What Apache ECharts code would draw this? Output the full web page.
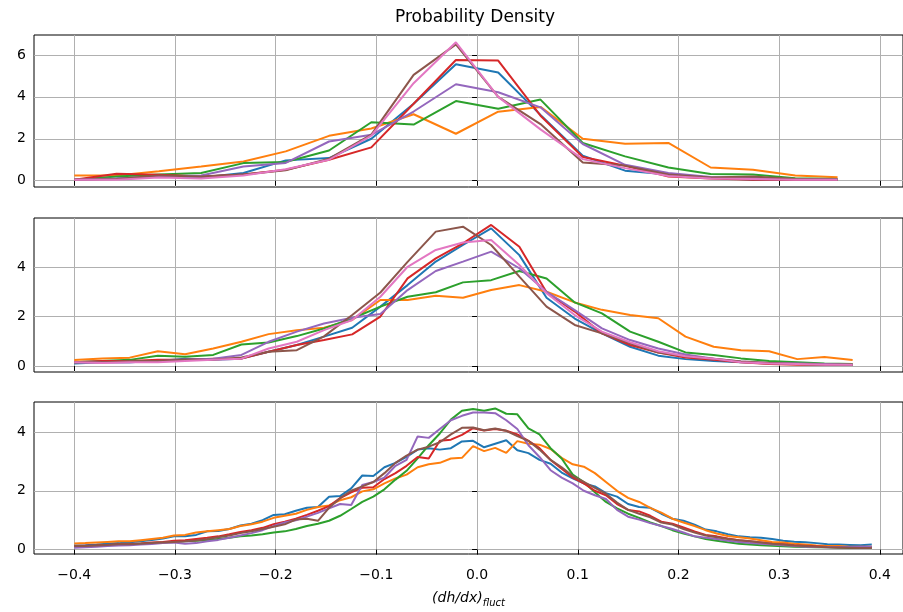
<!DOCTYPE html>
<html lang="en">
<head>
<meta charset="utf-8">
<script src="https://cdn.jsdelivr.net/npm/echarts@6/dist/echarts.min.js"></script>
</head>
<body style="margin:0">
<div id="chart" style="width:903px;height:612px"></div>
<script>
// tab10 colours, one per run
var colors = ['#1f77b4', '#ff7f0e', '#2ca02c', '#d62728', '#9467bd', '#8c564b', '#e377c2'];

// tick labels
var xTicks = [-0.4, -0.3, -0.2, -0.1, 0.0, 0.1, 0.2, 0.3, 0.4];
var yTicksTop = [0, 2, 4, 6];
var yTicksMid = [0, 2, 4];
var yTicksBot = [0, 2, 4];

// top panel
var x1 = [-0.400, -0.358, -0.316, -0.274, -0.232, -0.190, -0.147, -0.105, -0.063, -0.021, 0.021, 0.063, 0.105, 0.147, 0.190, 0.232, 0.274, 0.316, 0.358];
var top_blue   = [0.05, 0.10, 0.20, 0.15, 0.37, 0.97, 1.08, 2.00, 3.67, 5.55, 5.16, 3.14, 1.19, 0.48, 0.30, 0.15, 0.05, 0.05, 0.05];
var top_orange = [0.25, 0.25, 0.45, 0.68, 0.92, 1.40, 2.14, 2.49, 3.17, 2.24, 3.29, 3.52, 2.00, 1.76, 1.80, 0.63, 0.52, 0.25, 0.16];
var top_green  = [0.05, 0.20, 0.30, 0.37, 0.84, 0.89, 1.44, 2.79, 2.68, 3.80, 3.43, 3.87, 1.80, 1.16, 0.63, 0.32, 0.30, 0.12, 0.08];
var top_red    = [0.05, 0.33, 0.28, 0.20, 0.30, 0.52, 1.00, 1.59, 3.67, 5.76, 5.73, 3.10, 1.13, 0.71, 0.20, 0.10, 0.05, 0.05, 0.05];
var top_purple = [0.05, 0.10, 0.20, 0.25, 0.68, 0.85, 1.87, 2.19, 3.30, 4.60, 4.22, 3.50, 1.75, 0.76, 0.37, 0.18, 0.15, 0.08, 0.06];
var top_brown  = [0.05, 0.08, 0.25, 0.20, 0.30, 0.50, 1.05, 2.20, 5.05, 6.50, 4.00, 2.70, 0.87, 0.72, 0.30, 0.15, 0.20, 0.08, 0.05];
var top_pink   = [0.05, 0.05, 0.15, 0.10, 0.25, 0.55, 1.00, 2.15, 4.65, 6.60, 4.00, 2.45, 1.03, 0.60, 0.22, 0.10, 0.08, 0.05, 0.05];

// middle panel
var x2 = [-0.400, -0.372, -0.345, -0.317, -0.290, -0.262, -0.234, -0.207, -0.179, -0.152, -0.124, -0.096, -0.069, -0.041, -0.014, 0.014, 0.042, 0.069, 0.097, 0.124, 0.152, 0.180, 0.207, 0.235, 0.262, 0.290, 0.318, 0.345, 0.373];
var mid_blue   = [0.10, 0.15, 0.15, 0.20, 0.30, 0.25, 0.30, 0.58, 0.85, 1.19, 1.55, 2.40, 3.27, 4.22, 4.89, 5.56, 4.48, 2.76, 1.92, 1.32, 0.78, 0.42, 0.28, 0.20, 0.15, 0.10, 0.08, 0.05, 0.05];
var mid_orange = [0.24, 0.31, 0.34, 0.60, 0.48, 0.71, 0.98, 1.29, 1.45, 1.55, 1.86, 2.67, 2.67, 2.84, 2.76, 3.07, 3.27, 3.00, 2.57, 2.27, 2.06, 1.93, 1.19, 0.78, 0.64, 0.60, 0.28, 0.37, 0.24];
var mid_green  = [0.15, 0.20, 0.25, 0.42, 0.38, 0.45, 0.87, 0.95, 1.21, 1.52, 1.92, 2.40, 2.80, 2.98, 3.38, 3.47, 3.84, 3.54, 2.57, 2.13, 1.39, 0.98, 0.55, 0.45, 0.31, 0.20, 0.15, 0.10, 0.08];
var mid_red    = [0.15, 0.20, 0.20, 0.25, 0.25, 0.30, 0.30, 0.58, 0.85, 1.05, 1.28, 2.00, 3.54, 4.35, 4.96, 5.70, 4.82, 2.98, 2.20, 1.32, 0.85, 0.55, 0.35, 0.25, 0.15, 0.08, 0.05, 0.05, 0.05];
var mid_purple = [0.15, 0.15, 0.15, 0.20, 0.25, 0.30, 0.45, 0.98, 1.39, 1.72, 1.95, 2.10, 3.07, 3.84, 4.22, 4.62, 3.95, 3.00, 2.26, 1.52, 1.05, 0.71, 0.47, 0.30, 0.18, 0.12, 0.10, 0.08, 0.05];
var mid_brown  = [0.15, 0.15, 0.20, 0.20, 0.25, 0.25, 0.35, 0.58, 0.64, 1.20, 2.06, 2.97, 4.21, 5.43, 5.63, 4.89, 3.61, 2.40, 1.66, 1.32, 0.92, 0.55, 0.40, 0.30, 0.18, 0.12, 0.08, 0.05, 0.05];
var mid_pink   = [0.15, 0.12, 0.15, 0.15, 0.20, 0.25, 0.30, 0.71, 0.98, 1.45, 1.86, 2.80, 4.01, 4.69, 4.99, 5.09, 4.08, 2.94, 2.06, 1.39, 0.96, 0.60, 0.40, 0.30, 0.15, 0.10, 0.08, 0.05, 0.05];

// bottom panel
var x3 = [-0.400, -0.389, -0.378, -0.367, -0.356, -0.345, -0.334, -0.323, -0.312, -0.301,
          -0.290, -0.279, -0.268, -0.257, -0.246, -0.235, -0.224, -0.213, -0.202, -0.191,
          -0.180, -0.169, -0.158, -0.147, -0.136, -0.125, -0.114, -0.103, -0.092, -0.081,
          -0.070, -0.059, -0.048, -0.037, -0.026, -0.015, -0.004, 0.007, 0.018, 0.029,
          0.040, 0.051, 0.062, 0.073, 0.084, 0.095, 0.106, 0.117, 0.128, 0.139,
          0.150, 0.161, 0.172, 0.183, 0.194, 0.205, 0.216, 0.227, 0.238, 0.249,
          0.260, 0.271, 0.282, 0.293, 0.304, 0.315, 0.326, 0.337, 0.348, 0.359,
          0.370, 0.381, 0.392];
var bot_blue = [0.14, 0.15, 0.17, 0.20, 0.22, 0.25, 0.28, 0.33, 0.38, 0.45,
                0.45, 0.50, 0.62, 0.63, 0.70, 0.82, 0.88, 1.00, 1.18, 1.20,
                1.32, 1.42, 1.45, 1.80, 1.82, 2.08, 2.52, 2.50, 2.80, 2.95,
                3.15, 3.40, 3.45, 3.40, 3.45, 3.68, 3.70, 3.48, 3.60, 3.72,
                3.38, 3.28, 3.05, 2.92, 2.62, 2.42, 2.25, 2.15, 1.92, 1.80,
                1.55, 1.45, 1.42, 1.22, 1.05, 0.98, 0.85, 0.68, 0.62, 0.52,
                0.45, 0.42, 0.40, 0.36, 0.30, 0.27, 0.25, 0.22, 0.18, 0.17,
                0.16, 0.15, 0.17];
var bot_orange = [0.21, 0.22, 0.24, 0.26, 0.28, 0.28, 0.32, 0.36, 0.40, 0.48,
                  0.50, 0.58, 0.62, 0.66, 0.70, 0.80, 0.86, 0.95, 1.08, 1.15,
                  1.22, 1.35, 1.45, 1.50, 1.68, 1.78, 1.98, 2.05, 2.25, 2.42,
                  2.55, 2.80, 2.90, 2.95, 3.10, 3.12, 3.52, 3.35, 3.46, 3.29,
                  3.69, 3.60, 3.57, 3.42, 3.12, 2.90, 2.82, 2.60, 2.30, 2.00,
                  1.76, 1.62, 1.42, 1.26, 1.05, 0.92, 0.80, 0.66, 0.55, 0.46,
                  0.42, 0.38, 0.32, 0.26, 0.24, 0.20, 0.17, 0.14, 0.12, 0.12,
                  0.10, 0.10, 0.10];
var bot_green = [0.10, 0.12, 0.13, 0.15, 0.17, 0.18, 0.20, 0.22, 0.24, 0.26,
                 0.28, 0.30, 0.32, 0.36, 0.40, 0.45, 0.48, 0.52, 0.58, 0.62,
                 0.70, 0.80, 0.88, 0.98, 1.15, 1.38, 1.62, 1.80, 2.05, 2.38,
                 2.68, 3.10, 3.55, 3.95, 4.42, 4.72, 4.78, 4.72, 4.80, 4.62,
                 4.60, 4.12, 3.92, 3.45, 3.10, 2.55, 2.30, 1.95, 1.62, 1.40,
                 1.22, 1.08, 0.92, 0.80, 0.66, 0.55, 0.45, 0.36, 0.30, 0.25,
                 0.20, 0.17, 0.15, 0.13, 0.11, 0.10, 0.09, 0.08, 0.08, 0.06,
                 0.05, 0.05, 0.05];
var bot_red = [0.12, 0.13, 0.14, 0.16, 0.18, 0.19, 0.21, 0.24, 0.26, 0.30,
               0.32, 0.36, 0.40, 0.45, 0.52, 0.60, 0.66, 0.74, 0.86, 0.95,
               1.05, 1.18, 1.32, 1.48, 1.75, 1.95, 2.10, 2.12, 2.40, 2.60,
               2.85, 3.15, 3.10, 3.70, 3.74, 3.90, 4.13, 4.05, 4.10, 4.04,
               3.92, 3.70, 3.45, 3.05, 2.75, 2.45, 2.25, 2.00, 1.85, 1.55,
               1.35, 1.30, 1.15, 0.95, 0.88, 0.75, 0.62, 0.50, 0.45, 0.38,
               0.32, 0.28, 0.24, 0.20, 0.18, 0.15, 0.13, 0.11, 0.09, 0.08,
               0.08, 0.07, 0.08];
var bot_purple = [0.06, 0.08, 0.10, 0.12, 0.14, 0.15, 0.17, 0.19, 0.22, 0.24,
                  0.20, 0.22, 0.28, 0.33, 0.40, 0.48, 0.56, 0.66, 0.80, 0.92,
                  1.00, 1.12, 1.25, 1.40, 1.55, 1.52, 2.20, 2.30, 2.45, 2.85,
                  3.05, 3.85, 3.80, 4.10, 4.40, 4.55, 4.66, 4.66, 4.64, 4.40,
                  4.10, 3.55, 3.15, 2.70, 2.45, 2.25, 2.00, 1.85, 1.72, 1.35,
                  1.12, 1.02, 0.90, 0.80, 0.70, 0.58, 0.45, 0.40, 0.36, 0.30,
                  0.26, 0.22, 0.20, 0.17, 0.15, 0.12, 0.10, 0.09, 0.08, 0.08,
                  0.09, 0.10, 0.10];
var bot_brown = [0.12, 0.12, 0.14, 0.16, 0.18, 0.18, 0.20, 0.22, 0.24, 0.26,
                 0.28, 0.31, 0.36, 0.42, 0.48, 0.56, 0.62, 0.70, 0.78, 0.86,
                 1.02, 1.05, 0.98, 1.42, 1.75, 2.00, 2.15, 2.30, 2.60, 2.95,
                 3.20, 3.40, 3.50, 3.65, 3.92, 4.14, 4.15, 4.06, 4.12, 4.04,
                 3.86, 3.70, 3.40, 3.05, 2.80, 2.50, 2.30, 2.10, 1.90, 1.60,
                 1.35, 1.22, 1.10, 0.92, 0.85, 0.70, 0.58, 0.48, 0.42, 0.36,
                 0.32, 0.28, 0.24, 0.20, 0.17, 0.14, 0.12, 0.10, 0.08, 0.07,
                 0.06, 0.05, 0.05];

var panels = [
    { x: x1, ys: [top_blue, top_orange, top_green, top_red, top_purple, top_brown, top_pink], min: -0.3, max: 6.95, ticks: yTicksTop },
    { x: x2, ys: [mid_blue, mid_orange, mid_green, mid_red, mid_purple, mid_brown, mid_pink], min: -0.24, max: 5.98, ticks: yTicksMid },
    { x: x3, ys: [bot_blue, bot_orange, bot_green, bot_red, bot_purple, bot_brown], min: -0.15, max: 5.02, ticks: yTicksBot }
];
var gridPos = [
    { top: 35, height: 152 },
    { top: 218, height: 154 },
    { top: 402, height: 152 }
];

var font = 'DejaVu Sans';

function minusFmt(v, digits) {
    var s = Math.abs(v).toFixed(digits);
    return (v < 0 ? '\u2212' : '') + s;
}

var grids = [], xAxes = [], yAxes = [], series = [];
panels.forEach(function (p, k) {
    grids.push({
        left: 34, right: -3, top: gridPos[k].top, height: gridPos[k].height,
        show: true, borderColor: '#000', borderWidth: 1, backgroundColor: 'transparent'
    });
    var xa = {
        type: 'value', gridIndex: k, min: -0.44, max: 0.423,
        minInterval: 0.1, maxInterval: 0.1,
        axisLine: { show: false },
        axisTick: { show: true, length: 5, customValues: xTicks, lineStyle: { color: '#000', width: 1 } },
        axisLabel: {
            show: k === 2, customValues: xTicks, fontSize: 14, color: '#000', fontFamily: font, margin: 14,
            formatter: function (v) { return minusFmt(v, 1); }
        },
        splitLine: { show: true, lineStyle: { color: '#b0b0b0', width: 1 } }
    };
    if (k === 2) {
        xa.name = '{i|(dh/dx)}{s|fluct}';
        xa.nameLocation = 'middle';
        xa.nameGap = 34;
        xa.nameTextStyle = {
            rich: {
                i: { fontStyle: 'italic', fontSize: 14, fontFamily: font, color: '#000', lineHeight: 20 },
                s: { fontStyle: 'italic', fontSize: 10, fontFamily: font, color: '#000', lineHeight: 10, verticalAlign: 'bottom' }
            }
        };
    }
    xAxes.push(xa);
    yAxes.push({
        type: 'value', gridIndex: k, min: p.min, max: p.max,
        minInterval: 2, maxInterval: 2,
        axisLine: { show: false },
        axisTick: { show: true, length: 5, customValues: p.ticks, lineStyle: { color: '#000', width: 1 } },
        axisLabel: {
            customValues: p.ticks, fontSize: 14, color: '#000', fontFamily: font, margin: 8,
            formatter: function (v) { return minusFmt(v, 0); }
        },
        splitLine: { show: true, lineStyle: { color: '#b0b0b0', width: 1 } }
    });
    p.ys.forEach(function (y, j) {
        series.push({
            type: 'line', xAxisIndex: k, yAxisIndex: k,
            showSymbol: false, symbol: 'none',
            lineStyle: { color: colors[j], width: 2 },
            itemStyle: { color: colors[j] },
            data: p.x.map(function (xv, i) { return [xv, y[i]]; })
        });
    });
});

var chart = echarts.init(document.getElementById('chart'), null, { renderer: 'canvas' });
chart.setOption({
    animation: false,
    backgroundColor: '#fff',
    title: {
        text: 'Probability Density', left: 470, top: 4, textAlign: 'center',
        textStyle: { fontSize: 17, fontWeight: 'normal', color: '#000', fontFamily: font }
    },
    grid: grids,
    xAxis: xAxes,
    yAxis: yAxes,
    series: series
});
</script>
</body>
</html>
